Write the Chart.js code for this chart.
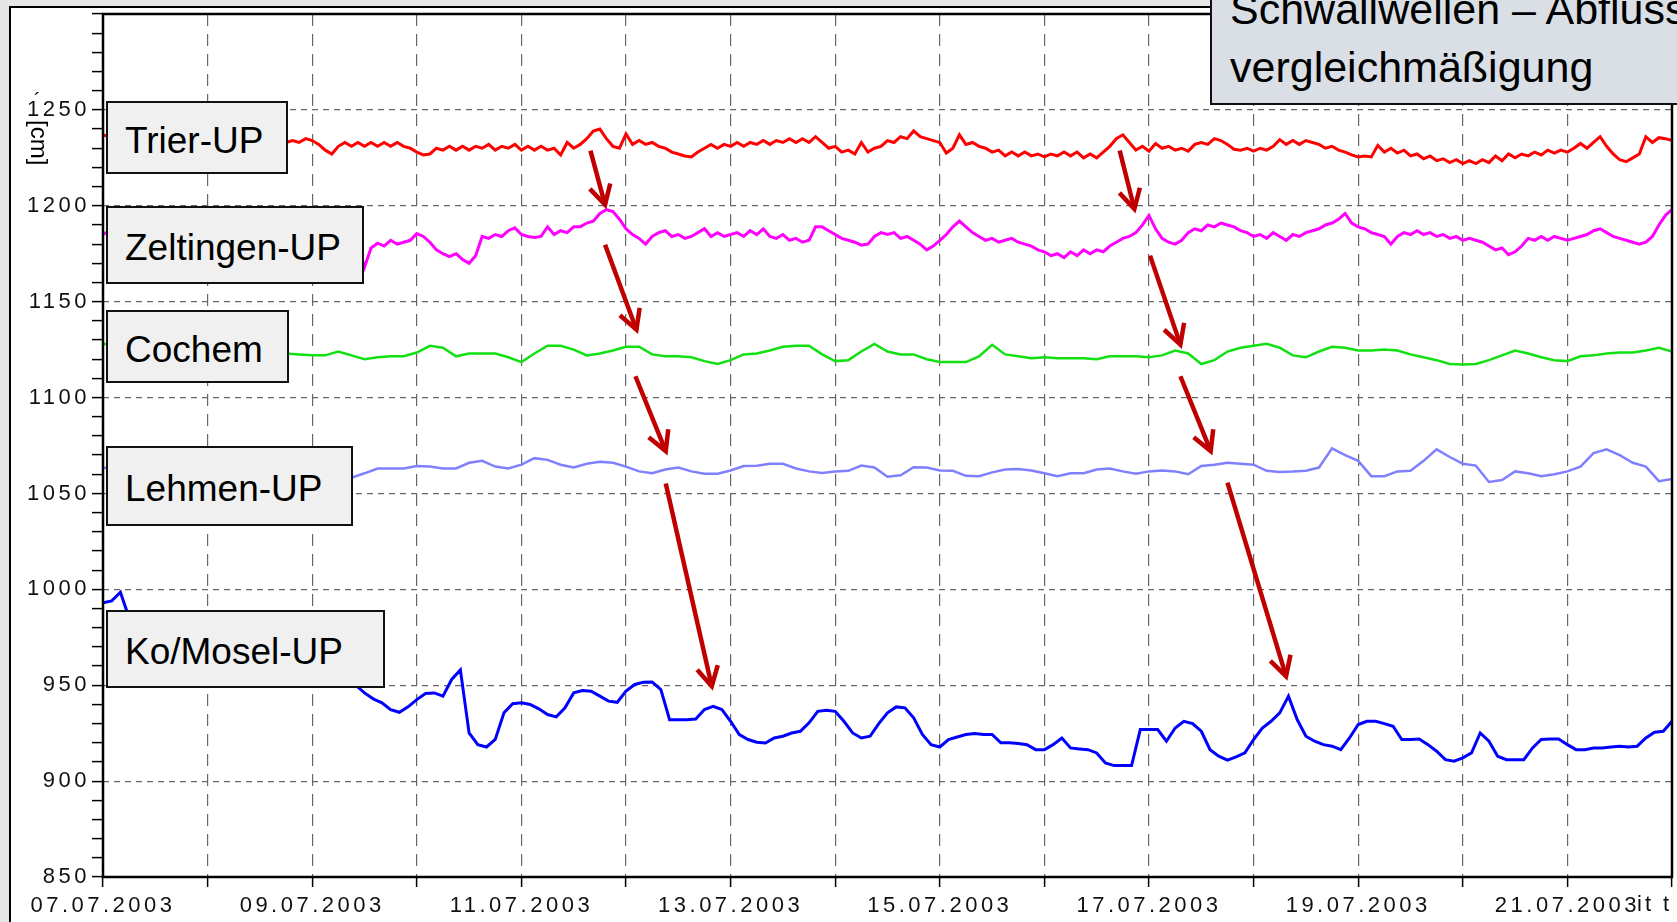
<!DOCTYPE html>
<html>
<head>
<meta charset="utf-8">
<script src="https://cdn.jsdelivr.net/npm/chart.js@4.4.1/dist/chart.umd.min.js"></script>
<style>
  body { margin: 0; width: 1677px; height: 922px; overflow: hidden; position: relative;
         background: #e6e6e6; font-family: "Liberation Sans", Arial, sans-serif; }
  #frame { position: absolute; left: 9px; top: 6px; width: 1720px; height: 960px;
           border-left: 2px solid #000; border-top: 2px solid #000; background: #fff; }
  #chartBox { position: absolute; left: 0; top: 0; width: 1677px; height: 922px; }
  .lbl { position: absolute; box-sizing: border-box; background: #f0f0f0; border: 2px solid #111;
         font-size: 37px; padding: 6px 0 0 17px; display: flex; align-items: center; color: #000; }
  #title { position: absolute; left: 1210px; top: -40px; width: 520px; height: 145px; box-sizing: border-box;
           background: #d9dfe4; border: 2px solid #111; }
  #titleText { position: absolute; left: 1230px; top: -20px; font-size: 43px; line-height: 58px;
               white-space: nowrap; color: #000; }
  #yTitle { position: absolute; left: 27px; top: 120px; font-size: 24px; writing-mode: vertical-rl; line-height: 24px; }
  #tick { position: absolute; left: 34px; top: 90px; font-size: 20px; line-height: 20px; }
  #xTail { position: absolute; left: 1637px; top: 893px; font-size: 22px; line-height: 22px;
           letter-spacing: 3px; color: #111; white-space: nowrap; }
</style>
</head>
<body>
<div id="frame"></div>
<div id="chartBox"><canvas id="levelChart"></canvas></div>
<div id="yTitle">[cm]</div>
<div id="tick">´</div>
<div id="xTail">it t</div>
<div class="lbl" style="left:106px;top:101px;width:182px;height:73px">Trier-UP</div>
<div class="lbl" style="left:106px;top:206px;width:258px;height:78px">Zeltingen-UP</div>
<div class="lbl" style="left:106px;top:310px;width:183px;height:73px">Cochem</div>
<div class="lbl" style="left:106px;top:446px;width:247px;height:80px">Lehmen-UP</div>
<div class="lbl" style="left:106px;top:610px;width:279px;height:78px">Ko/Mosel-UP</div>
<div id="title"></div>
<div id="titleText">Schwallwellen – Abfluss-<br>vergleichmäßigung</div>
<script>
// x axis: days after 07.07.2003 00:00
const dateLabels = ['07.07.2003', '09.07.2003', '11.07.2003', '13.07.2003',
                    '15.07.2003', '17.07.2003', '19.07.2003', '21.07.2003'];

// water levels [cm], Trier and Zeltingen every 1.5 h
const trierUP = [
  1237,1236,1234,1235,1233,1234,1232,1233,1234,1232,1233,1235,1233,1232,1234,1233,
  1234,1232,1233,1234,1232,1233,1235,1233,1232,1234,1233,1232,1233,1234,1233,1235,
  1234,1232,1229,1227,1231,1233,1231,1233,1231,1233,1231,1233,1231,1233,1231,1230,
  1228,1226.5,1227,1230,1229,1231,1229,1231,1229,1231,1230,1232,1229,1231,1230,1232,
  1229,1231,1229,1231,1229,1230,1226.5,1233,1230,1232,1235,1239,1240,1235,1231,1230,
  1237.5,1232,1234,1232,1233,1231,1230,1228,1227,1226,1225.5,1228,1230,1232,1230,1232,
  1231,1233,1231,1233,1232,1234,1232,1234,1233,1235,1233,1235,1233,1236,1233,1230,
  1231,1228,1229,1227,1233,1228,1230,1231,1234,1233,1236,1235,1239,1236,1235,1234,
  1233,1227.5,1230,1237,1232,1233,1231,1230,1228,1229,1226,1228,1226,1228,1226,1227,
  1225.5,1227,1226,1228,1226,1228,1225,1227,1225,1228,1231,1235,1237,1233,1229,1231,
  1228.5,1232.5,1230,1231,1229,1230,1228.5,1232,1233,1232,1235,1234,1232,1229.5,1229,1230,
  1228.5,1230,1229,1231,1234.5,1232,1234,1232,1234,1233,1232,1230,1231,1229,1228,1226.5,
  1225.5,1226,1225.5,1231.5,1228,1230,1227.5,1229,1226,1227,1224.5,1226,1223.5,1224.5,1222.5,1224,
  1222,1223.5,1222,1224,1222.5,1226,1223.5,1227,1225,1227,1226,1228,1226.5,1229,1227.5,1229,
  1228,1230,1232.5,1230,1233,1236,1231,1227,1224,1223,1225,1227,1236,1233,1235.5,1235,
  1234
];
const zeltingenUP = [
  1185,1187,1184,1186,1183,1185,1184,1186,1183,1185,1184,1186,1183,1185,1184,1186,
  1184,1185,1183,1186,1184,1182,1185,1183,1184,1182,1185,1183,1184,1182,1185,1183,
  1184,1182,1183,1181,1182,1180,1181,1179,1168,1178,1180.5,1179,1182,1180,1181,1182,
  1185.5,1184,1181,1177,1175,1173.5,1175,1172,1170,1174,1184,1183,1185,1184,1187,1188.5,
  1185,1184,1183.5,1184,1189,1185,1187,1186,1189,1189,1191,1192,1196,1198,1197,1193,
  1188,1185,1183,1180,1184,1186,1187,1184,1185,1183,1184,1186,1188,1184,1186,1184,
  1185,1186,1184,1187,1185,1188,1184,1183,1185,1182,1183,1181,1182,1189,1189,1187,
  1185,1183,1182,1181,1179.5,1180,1184,1186,1185,1186,1183,1184,1182,1180,1177,1179,
  1182,1185,1189,1192,1189,1186,1184,1182,1183,1181,1182,1183,1181,1180,1179,1177,
  1176,1174,1175,1173,1176,1174,1177,1175,1177,1176,1179,1181,1183,1184,1186,1190,
  1195,1188,1183,1181,1180,1182,1186,1188,1187,1190,1189,1191,1190,1189,1187,1186,
  1184,1185,1183,1186,1184,1182,1185,1184,1186,1187,1188,1190,1191,1193,1196,1191,
  1189,1188,1186,1185,1184,1180,1184,1186,1185,1187,1185,1186,1184,1185,1183,1184,
  1182,1183,1182,1181,1179,1177,1178,1174.5,1176,1179,1183,1182,1184,1182,1184,1183,
  1182,1183,1184,1185,1187,1188,1186,1184,1183,1182,1181,1180,1181,1184,1190,1195,
  1198
];
// Cochem and Lehmen every 3 h
const cochem = [
  1128,1127,1126,1125,1125,1124,1124,1123,1123,1124,1124,1125,1124,1123,1123,1122.5,
  1122,1122,1124,1122,1120,1121,1121.5,1121.5,1123.5,1127,1126,1121.5,1123,1123,1123,1121,
  1118.5,1123,1127,1127,1125,1122,1123,1124.5,1126.5,1126.5,1122.5,1121.5,1121.5,1121,1119,1117.5,
  1119.5,1122.5,1123,1124.5,1126.5,1127,1127,1122.5,1119,1119.5,1124,1128,1124,1122.5,1122.5,1120,
  1118.5,1118.5,1118.5,1121.5,1127.5,1122.5,1121.5,1120.5,1121,1120.5,1120.5,1120.5,1120,1121.5,1121.5,1121.5,
  1121,1122,1124.5,1123,1117.5,1119.5,1124,1126,1127,1128,1126,1122,1121,1124,1126.5,1126,
  1124.5,1124.5,1125,1124.5,1122.5,1121,1119.5,1117.5,1117.2,1117.5,1119.5,1122,1124.5,1123,1121,1119.5,
  1119,1121.5,1122,1123,1123.5,1123.5,1124.5,1126,1124
];
const lehmenUP = [
  1063.4,1063,1064,1064.5,1064,1063,1062,1063,1064,1064,1063,1062,1062,1061,1060,1059.5,
  1059,1058.5,1058.2,1058.2,1060.5,1063,1063,1063,1064.3,1064,1063,1063,1066,1067,1064,1063,
  1065,1068.4,1067.5,1065,1063.5,1065.5,1066.5,1066,1064,1061.5,1060.5,1062.5,1063.5,1061.5,1060.3,1060.3,
  1062,1064.3,1064.5,1065.5,1065.5,1063,1061.5,1060.7,1061.5,1061.8,1064.5,1063.5,1058.7,1059.5,1063.7,1063.5,
  1062,1061.8,1059.2,1059,1061,1062.5,1062.7,1062,1060.5,1059,1060.5,1060.5,1062.5,1063,1061.5,1060.3,
  1061.5,1062,1061.5,1060,1064.3,1065,1066,1065.5,1065,1061.8,1061.2,1061.4,1061.8,1063.5,1073.5,1070,
  1067,1059,1059,1061.5,1061.8,1067,1073,1069,1065.5,1064.5,1056,1057,1061.5,1060.5,1059,1060,
  1061.5,1064,1071,1073,1070,1066,1064,1056.4,1057.5
];
// Koblenz/Mosel every 2 h
const koMoselUP = [
  993,994,998.5,985,975,965,958,954,953,952,952,951,
  952,953,952,951,952,953,952,951,952,953,952,951,
  952,951,952,951,952,950,946,942.9,940.8,937.3,935.9,938.7,
  942.5,945.7,946,944.3,953,958,925.1,919,917.8,921.7,935.6,940.4,
  940.8,940,937.7,934.7,933.5,938.2,946,947.2,946.9,944.3,941.7,941.1,
  946.9,950.4,951.6,951.7,947.7,932,932,932,932.4,937.3,939,937.3,
  931.2,924.3,921.7,920.3,919.9,922.5,923.4,925.1,926,930.4,936.4,937,
  936.4,931.2,925.1,922.5,923.4,930,935.6,938.7,938.2,933,924.3,919,
  917.8,921.7,923,924.3,924.8,924.3,924.3,920,920,919.6,919,916.4,
  916.4,919,922.5,917.3,916.8,916.4,914.7,909.5,908.1,908.1,908.1,926.9,
  926.9,926.9,920.8,927.7,931.2,930,926,916.4,913,910.9,912.6,914.7,
  921.7,927.7,931.2,935.6,944.3,932.1,923.4,920.8,919,918.2,916.4,922.5,
  929.5,931.2,931.2,930,928.6,921.7,921.7,922,919,915.6,911.2,910.4,
  912.1,914.7,925.1,920.8,913,911.2,911.2,911.2,917.3,921.7,922,922,
  919,916.4,916.4,917.3,917.3,917.8,918.2,917.8,918.2,922.5,925.5,926,
  931.2
];

// red arrows: [day, cm] from -> to
const arrowFrom = [[4.66, 1228.8], [4.80, 1179.7], [5.09, 1111.1], [5.38, 1055.2],
                   [9.72, 1228.8], [10.01, 1174.0], [10.30, 1111.1], [10.75, 1055.6]];
const arrowTo = [[4.80, 1200.5], [5.10, 1135.4], [5.38, 1072.1], [5.82, 949.5],
                 [9.86, 1198.3], [10.30, 1127.6], [10.59, 1072.1], [11.31, 954.7]];

const series = (values, step) => values.map((v, i) => ({ x: i * step, y: v }));

const extras = {
  id: 'extras',
  beforeDraw(chart) { chart.ctx.letterSpacing = '3.5px'; },
  afterDatasetsDraw(chart) {
    const { ctx, chartArea: a, scales: { x, y } } = chart;
    ctx.save();
    ctx.strokeStyle = '#000';
    ctx.lineWidth = 2.5;
    ctx.strokeRect(a.left, a.top, a.right - a.left, a.bottom - a.top);

    ctx.strokeStyle = '#c00000';
    ctx.lineWidth = 4.5;
    ctx.lineJoin = 'miter';
    arrowFrom.forEach((p, i) => {
      const x1 = x.getPixelForValue(p[0]), y1 = y.getPixelForValue(p[1]);
      const x2 = x.getPixelForValue(arrowTo[i][0]), y2 = y.getPixelForValue(arrowTo[i][1]);
      const ang = Math.atan2(y2 - y1, x2 - x1);
      ctx.beginPath();
      ctx.moveTo(x1, y1);
      ctx.lineTo(x2, y2);
      ctx.stroke();
      ctx.beginPath();
      ctx.moveTo(x2 - 22 * Math.cos(ang - 0.5), y2 - 22 * Math.sin(ang - 0.5));
      ctx.lineTo(x2, y2);
      ctx.lineTo(x2 - 22 * Math.cos(ang + 0.5), y2 - 22 * Math.sin(ang + 0.5));
      ctx.stroke();
    });
    ctx.restore();
  },
  afterDraw(chart) { chart.ctx.letterSpacing = '0px'; }
};

const tickFont = { family: 'Liberation Sans', size: 22 };

new Chart(document.getElementById('levelChart'), {
  type: 'line',
  data: {
    datasets: [
      { label: 'Trier-UP', data: series(trierUP, 1 / 16), borderColor: '#ff0000', borderWidth: 3 },
      { label: 'Zeltingen-UP', data: series(zeltingenUP, 1 / 16), borderColor: '#ff00ff', borderWidth: 3 },
      { label: 'Cochem', data: series(cochem, 1 / 8), borderColor: '#12e012', borderWidth: 2.5 },
      { label: 'Lehmen-UP', data: series(lehmenUP, 1 / 8), borderColor: '#8080ff', borderWidth: 2.5 },
      { label: 'Ko/Mosel-UP', data: series(koMoselUP, 1 / 12), borderColor: '#0000ff', borderWidth: 3 }
    ]
  },
  options: {
    responsive: true,
    maintainAspectRatio: false,
    animation: false,
    events: [],
    elements: { point: { radius: 0 }, line: { tension: 0, fill: false } },
    layout: { padding: { left: 0, top: 14, right: 5, bottom: 0 } },
    plugins: { legend: { display: false }, tooltip: { enabled: false } },
    scales: {
      x: {
        type: 'linear',
        min: 0,
        max: 15,
        afterFit: s => { s.height = 45; s.paddingLeft = 0; s.paddingRight = 0; },
        ticks: {
          stepSize: 1,
          autoSkip: false,
          maxRotation: 0,
          padding: 6,
          color: '#111',
          font: tickFont,
          callback: v => (v % 2 === 0 && v < 15 ? dateLabels[v / 2] : '')
        },
        grid: { color: '#666', lineWidth: 1.2, tickColor: '#000', tickLength: 10, tickWidth: 1.5 },
        border: { display: false, dash: [12, 8] }
      },
      y: {
        min: 850,
        max: 1300,
        afterFit: s => { s.width = 103; s.paddingTop = 0; s.paddingBottom = 0; },
        ticks: {
          stepSize: 10,
          maxTicksLimit: 100,
          autoSkip: false,
          padding: 2,
          color: '#111',
          font: tickFont,
          callback: v => (v % 50 === 0 && v < 1300 ? String(v) : '')
        },
        grid: {
          color: c => (c.tick && c.tick.value % 50 === 0 ? '#666' : 'rgba(0,0,0,0)'),
          lineWidth: 1.2,
          tickColor: '#000',
          tickLength: 11,
          tickWidth: 1.5
        },
        border: { display: false, dash: [6, 5] }
      }
    }
  },
  plugins: [extras]
});
</script>
</body>
</html>
